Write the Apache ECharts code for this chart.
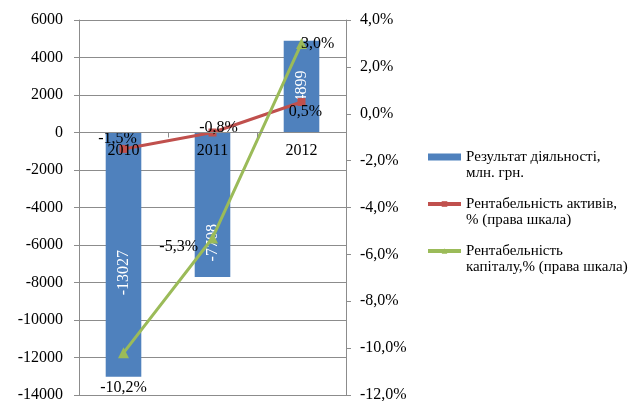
<!DOCTYPE html>
<html>
<head>
<meta charset="utf-8">
<script src="https://cdn.jsdelivr.net/npm/echarts@6/dist/echarts.min.js"></script>
<style>
  html, body { margin: 0; padding: 0; background: #fff; }
  #chart { width: 633px; height: 401px; }
</style>
</head>
<body>
<div id="chart"></div>
<script>
var years = ["2010", "2011", "2012"];
var result = [-13027, -7708, 4899];
var roa = [-1.5, -0.8, 0.5];
var roe = [-10.2, -5.3, 3.0];

var seriesNames = [
  "Результат діяльності,\nмлн. грн.",
  "Рентабельність активів,\n% (права шкала)",
  "Рентабельність\nкапіталу,% (права шкала)"
];

var font = "'Liberation Serif', 'Times New Roman', serif";
var axisGray = "#8c8c8c";

function pct(v) {
  return v.toFixed(1).replace(".", ",") + "%";
}

var chart = echarts.init(document.getElementById("chart"));

// label placement per point, as Excel placed them
var barLabelOffsets = [[-18, 0], [-38, 0], [0, 0]];
var roaLabels = [
  { position: "top", offset: [-6, 7] },
  { position: "top", offset: [6, 12] },
  { position: "bottom", offset: [4, -7] }
];
var roeLabels = [
  { position: "bottom", offset: [0, 16] },
  { position: "left", offset: [-4, 9] },
  { position: "right", offset: [-11, 0] }
];

var leftMin = -14000, leftMax = 6000;
var gridTop = 20, gridBottom = 6, chartH = 401;
var plotH = chartH - gridTop - gridBottom;
// category axis sits on the zero line of the left axis
var zeroShift = -plotH * (0 - leftMin) / (leftMax - leftMin);

var option = {
  animation: false,
  textStyle: { fontFamily: font },
  grid: { left: 79, right: 287, top: gridTop, bottom: gridBottom, outerBoundsMode: "none", containLabel: false },
  legend: {
    orient: "vertical",
    left: 426,
    top: 133,
    padding: 0,
    itemWidth: 33,
    itemHeight: 7,
    itemGap: -1,
    lineStyle: { width: 4 },
    formatter: function (name) { return "\n" + name; },
    textStyle: {
      fontFamily: font,
      fontSize: 15,
      color: "#000",
      lineHeight: 16
    },
    data: [
      { name: seriesNames[0], icon: "rect" },
      { name: seriesNames[1] },
      { name: seriesNames[2] }
    ]
  },
  xAxis: {
    type: "category",
    data: years,
    z: 10,
    position: "bottom",
    offset: zeroShift,
    axisLine: { onZero: false, lineStyle: { color: axisGray } },
    axisTick: { show: true, length: 5, lineStyle: { color: axisGray } },
    axisLabel: { show: true, fontFamily: font, fontSize: 16, color: "#000", margin: 10 },
    splitLine: { show: false }
  },
  yAxis: [
    {
      type: "value",
      min: leftMin,
      max: leftMax,
      interval: 2000,
      axisLine: { show: true, lineStyle: { color: axisGray } },
      axisTick: { show: true, length: 5, lineStyle: { color: axisGray } },
      axisLabel: {
        fontFamily: font, fontSize: 16, color: "#000", margin: 16,
        formatter: function (v) { return String(v); }
      },
      splitLine: { show: true, lineStyle: { color: axisGray, width: 1 } }
    },
    {
      type: "value",
      min: -12,
      max: 4,
      interval: 2,
      position: "right",
      axisLine: { show: true, onZero: false, lineStyle: { color: axisGray } },
      axisTick: { show: true, length: 5, lineStyle: { color: axisGray } },
      axisLabel: {
        fontFamily: font, fontSize: 16, color: "#000", margin: 14,
        formatter: pct
      },
      splitLine: { show: false }
    }
  ],
  series: [
    {
      name: seriesNames[0],
      type: "bar",
      yAxisIndex: 0,
      barWidth: "40%",
      itemStyle: { color: "#4F81BD" },
      label: {
        show: true,
        position: "inside",
        rotate: 90,
        color: "#fff",
        fontFamily: font,
        fontSize: 16
      },
      data: result.map(function (v, i) {
        return { value: v, label: { offset: barLabelOffsets[i] } };
      })
    },
    {
      name: seriesNames[1],
      type: "line",
      yAxisIndex: 1,
      symbol: "rect",
      symbolSize: 8,
      lineStyle: { color: "#C0504D", width: 3 },
      itemStyle: { color: "#C0504D" },
      label: {
        show: true,
        color: "#000",
        fontFamily: font,
        fontSize: 16,
        formatter: function (p) { return pct(p.value); }
      },
      data: roa.map(function (v, i) {
        return { value: v, label: roaLabels[i] };
      })
    },
    {
      name: seriesNames[2],
      type: "line",
      yAxisIndex: 1,
      symbol: "triangle",
      symbolSize: 11,
      lineStyle: { color: "#9BBB59", width: 3 },
      itemStyle: { color: "#9BBB59" },
      label: {
        show: true,
        color: "#000",
        fontFamily: font,
        fontSize: 16,
        formatter: function (p) { return pct(p.value); }
      },
      data: roe.map(function (v, i) {
        return { value: v, label: roeLabels[i] };
      })
    }
  ]
};

chart.setOption(option);
</script>
</body>
</html>
